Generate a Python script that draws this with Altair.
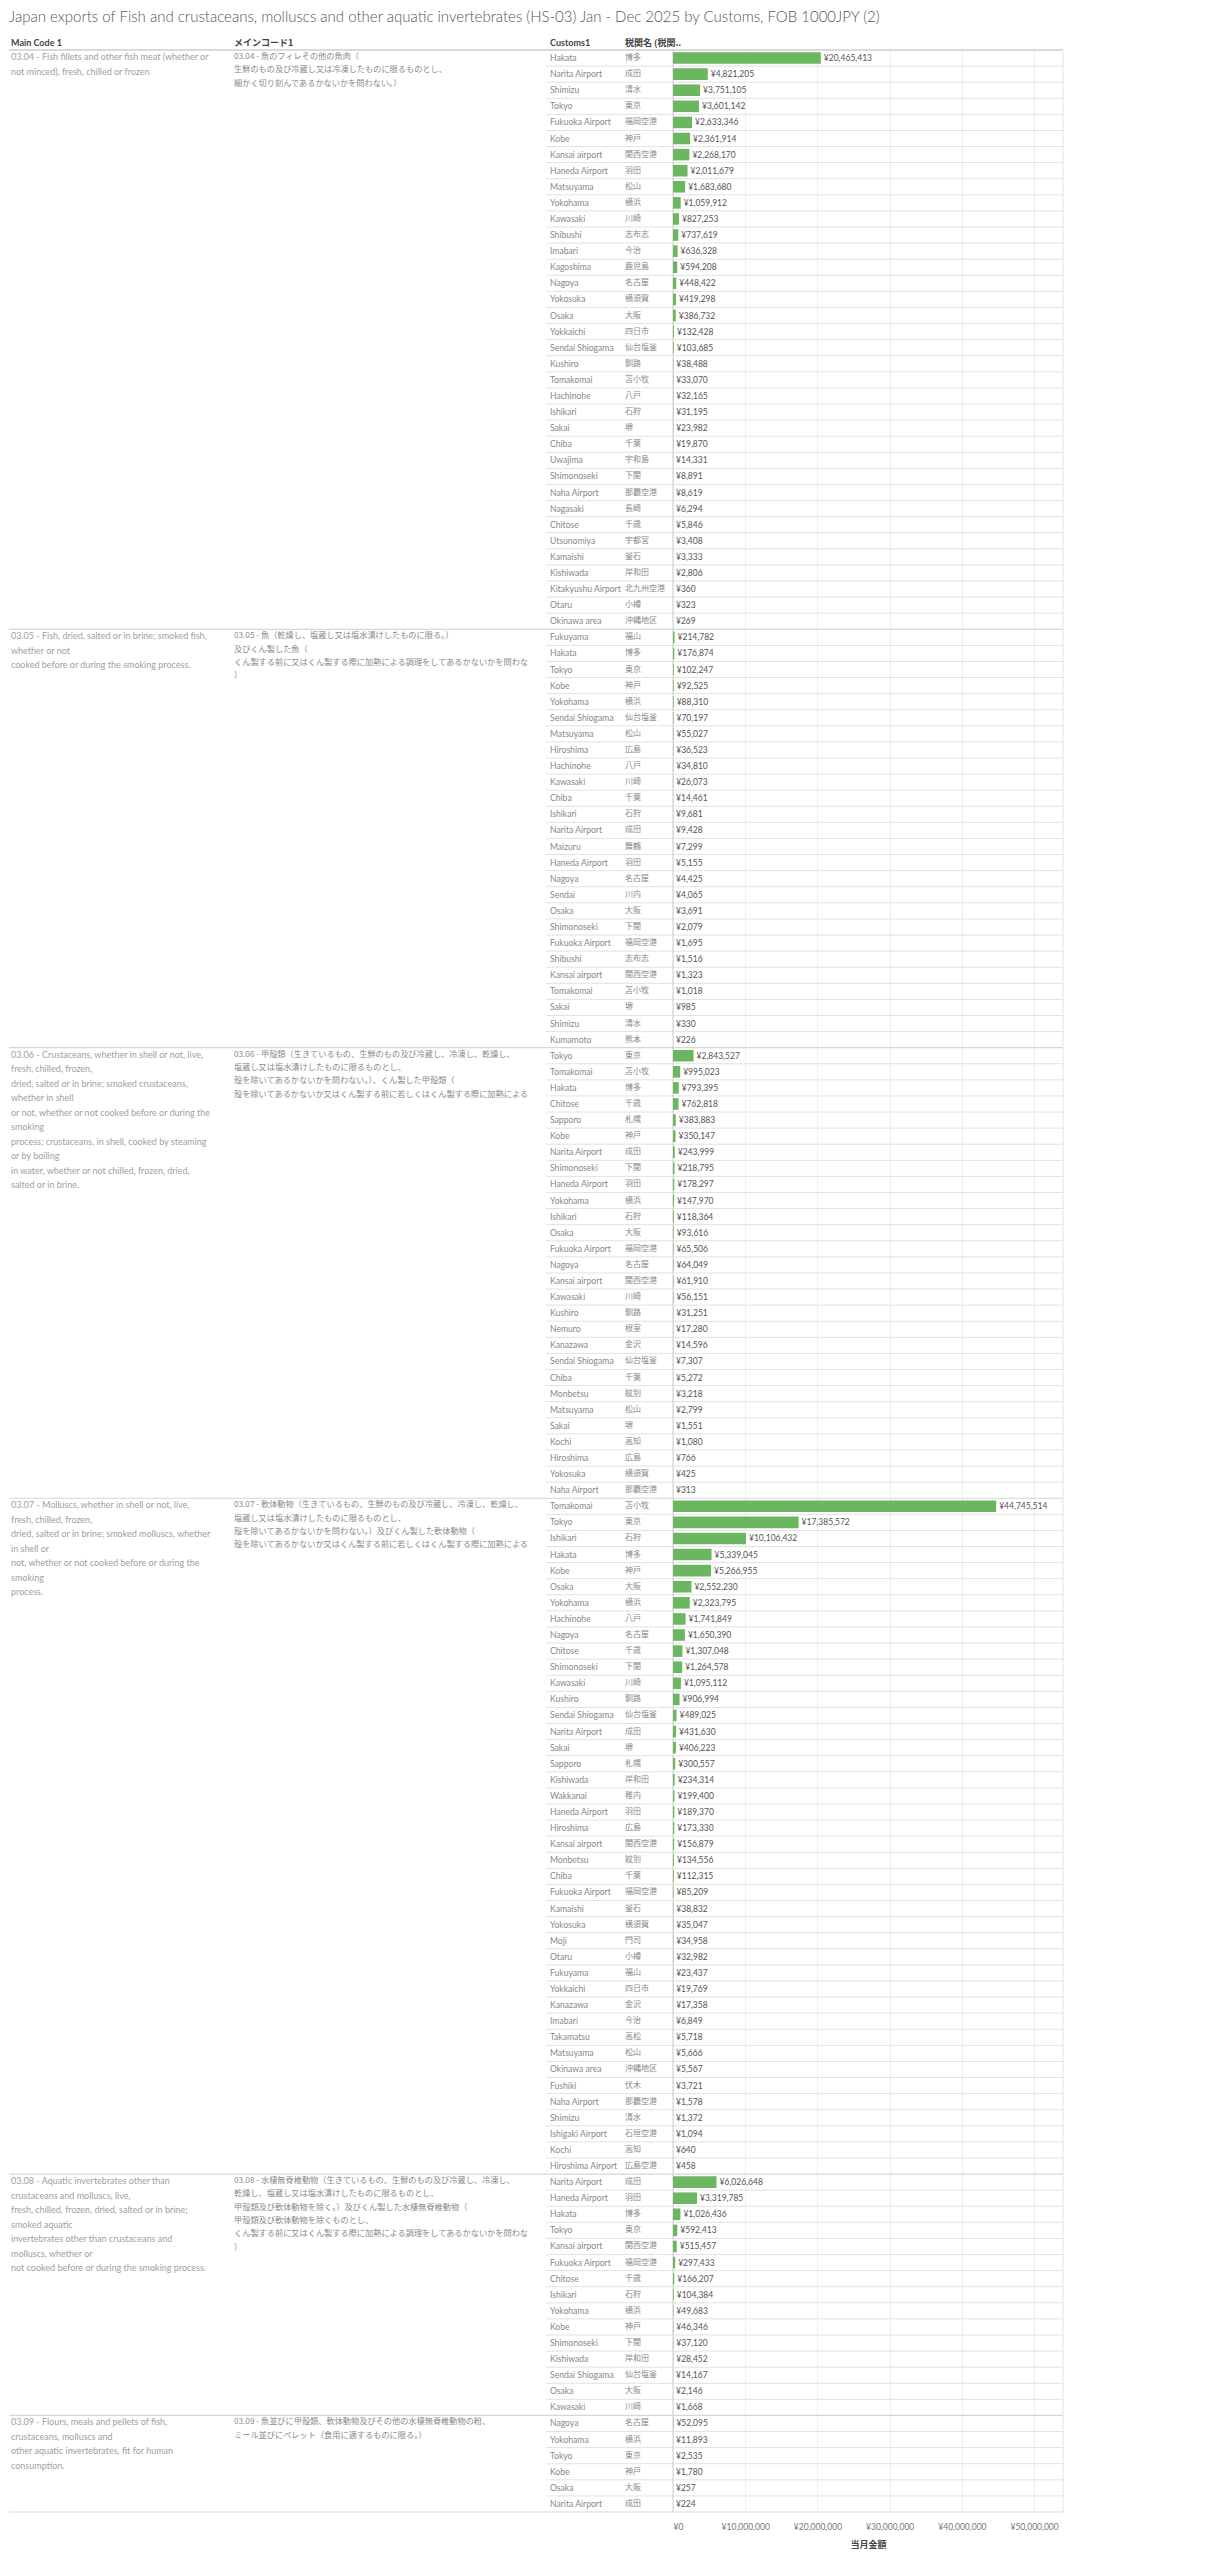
import altair as alt
import pandas as pd

TITLE = ("Japan exports of Fish and crustaceans, molluscs and other aquatic invertebrates "
         "(HS-03) Jan - Dec 2025 by Customs, FOB 1000JPY (2)")
HEADERS = ["Main Code 1", "メインコード1", "Customs1", "税関名 (税関.."]
AXIS_TITLE = "当月金額"
TICKS = [0, 10000000, 20000000, 30000000, 40000000, 50000000]

codes = ["03.04", "03.05", "03.06", "03.07", "03.08", "03.09"]

main_en = [
    ["03.04 - Fish fillets and other fish meat (whether or",
     "not minced), fresh, chilled or frozen"],
    ["03.05 - Fish, dried, salted or in brine; smoked fish,",
     "whether or not",
     "cooked before or during the smoking process."],
    ["03.06 - Crustaceans, whether in shell or not, live,",
     "fresh, chilled, frozen,",
     "dried, salted or in brine; smoked crustaceans,",
     "whether in shell",
     "or not, whether or not cooked before or during the",
     "smoking",
     "process; crustaceans, in shell, cooked by steaming",
     "or by boiling",
     "in water, whether or not chilled, frozen, dried,",
     "salted or in brine."],
    ["03.07 - Molluscs, whether in shell or not, live,",
     "fresh, chilled, frozen,",
     "dried, salted or in brine; smoked molluscs, whether",
     "in shell or",
     "not, whether or not cooked before or during the",
     "smoking",
     "process."],
    ["03.08 - Aquatic invertebrates other than",
     "crustaceans and molluscs, live,",
     "fresh, chilled, frozen, dried, salted or in brine;",
     "smoked aquatic",
     "invertebrates other than crustaceans and",
     "molluscs, whether or",
     "not cooked before or during the smoking process."],
    ["03.09 - Flours, meals and pellets of fish,",
     "crustaceans, molluscs and",
     "other aquatic invertebrates, fit for human",
     "consumption."],
]

main_jp = [
    ["03.04 - 魚のフィレその他の魚肉（",
     "生鮮のもの及び冷蔵し又は冷凍したものに限るものとし、",
     "細かく切り刻んであるかないかを問わない。）"],
    ["03.05 - 魚（乾燥し、塩蔵し又は塩水漬けしたものに限る。）",
     "及びくん製した魚（",
     "くん製する前に又はくん製する際に加熱による調理をしてあるかないかを問わない。",
     "）"],
    ["03.06 - 甲殻類（生きているもの、生鮮のもの及び冷蔵し、冷凍し、乾燥し、",
     "塩蔵し又は塩水漬けしたものに限るものとし、",
     "殻を除いてあるかないかを問わない。）、くん製した甲殻類（",
     "殻を除いてあるかないか又はくん製する前に若しくはくん製する際に加熱による調理をしてあるかないかを問わない。）"],
    ["03.07 - 軟体動物（生きているもの、生鮮のもの及び冷蔵し、冷凍し、乾燥し、",
     "塩蔵し又は塩水漬けしたものに限るものとし、",
     "殻を除いてあるかないかを問わない。）及びくん製した軟体動物（",
     "殻を除いてあるかないか又はくん製する前に若しくはくん製する際に加熱による調理をしてあるかないかを問わない。）"],
    ["03.08 - 水棲無脊椎動物（生きているもの、生鮮のもの及び冷蔵し、冷凍し、",
     "乾燥し、塩蔵し又は塩水漬けしたものに限るものとし、",
     "甲殻類及び軟体動物を除く。）及びくん製した水棲無脊椎動物（",
     "甲殻類及び軟体動物を除くものとし、",
     "くん製する前に又はくん製する際に加熱による調理をしてあるかないかを問わない。",
     "）"],
    ["03.09 - 魚並びに甲殻類、軟体動物及びその他の水棲無脊椎動物の粉、",
     "ミール並びにペレット（食用に適するものに限る。）"],
]

s0304_en = ["Hakata", "Narita Airport", "Shimizu", "Tokyo", "Fukuoka Airport", "Kobe",
            "Kansai airport", "Haneda Airport", "Matsuyama", "Yokohama", "Kawasaki",
            "Shibushi", "Imabari", "Kagoshima", "Nagoya", "Yokosuka", "Osaka", "Yokkaichi",
            "Sendai Shiogama", "Kushiro", "Tomakomai", "Hachinohe", "Ishikari", "Sakai",
            "Chiba", "Uwajima", "Shimonoseki", "Naha Airport", "Nagasaki", "Chitose",
            "Utsunomiya", "Kamaishi", "Kishiwada", "Kitakyushu Airport", "Otaru",
            "Okinawa area"]
s0304_jp = ["博多", "成田", "清水", "東京", "福岡空港", "神戸", "関西空港", "羽田", "松山",
            "横浜", "川崎", "志布志", "今治", "鹿児島", "名古屋", "横須賀", "大阪", "四日市",
            "仙台塩釜", "釧路", "苫小牧", "八戸", "石狩", "堺", "千葉", "宇和島", "下関",
            "那覇空港", "長崎", "千歳", "宇都宮", "釜石", "岸和田", "北九州空港", "小樽",
            "沖縄地区"]
s0304_val = [20465413, 4821205, 3751105, 3601142, 2633346, 2361914, 2268170, 2011679,
             1683680, 1059912, 827253, 737619, 636328, 594208, 448422, 419298, 386732,
             132428, 103685, 38488, 33070, 32165, 31195, 23982, 19870, 14331, 8891, 8619,
             6294, 5846, 3408, 3333, 2806, 360, 323, 269]

s0305_en = ["Fukuyama", "Hakata", "Tokyo", "Kobe", "Yokohama", "Sendai Shiogama",
            "Matsuyama", "Hiroshima", "Hachinohe", "Kawasaki", "Chiba", "Ishikari",
            "Narita Airport", "Maizuru", "Haneda Airport", "Nagoya", "Sendai", "Osaka",
            "Shimonoseki", "Fukuoka Airport", "Shibushi", "Kansai airport", "Tomakomai",
            "Sakai", "Shimizu", "Kumamoto"]
s0305_jp = ["福山", "博多", "東京", "神戸", "横浜", "仙台塩釜", "松山", "広島", "八戸", "川崎",
            "千葉", "石狩", "成田", "舞鶴", "羽田", "名古屋", "川内", "大阪", "下関", "福岡空港",
            "志布志", "関西空港", "苫小牧", "堺", "清水", "熊本"]
s0305_val = [214782, 176874, 102247, 92525, 88310, 70197, 55027, 36523, 34810, 26073,
             14461, 9681, 9428, 7299, 5155, 4425, 4065, 3691, 2079, 1695, 1516, 1323,
             1018, 985, 330, 226]

s0306_en = ["Tokyo", "Tomakomai", "Hakata", "Chitose", "Sapporo", "Kobe", "Narita Airport",
            "Shimonoseki", "Haneda Airport", "Yokohama", "Ishikari", "Osaka",
            "Fukuoka Airport", "Nagoya", "Kansai airport", "Kawasaki", "Kushiro", "Nemuro",
            "Kanazawa", "Sendai Shiogama", "Chiba", "Monbetsu", "Matsuyama", "Sakai",
            "Kochi", "Hiroshima", "Yokosuka", "Naha Airport"]
s0306_jp = ["東京", "苫小牧", "博多", "千歳", "札幌", "神戸", "成田", "下関", "羽田", "横浜",
            "石狩", "大阪", "福岡空港", "名古屋", "関西空港", "川崎", "釧路", "根室", "金沢",
            "仙台塩釜", "千葉", "紋別", "松山", "堺", "高知", "広島", "横須賀", "那覇空港"]
s0306_val = [2843527, 995023, 793395, 762818, 383883, 350147, 243999, 218795, 178297,
             147970, 118364, 93616, 65506, 64049, 61910, 56151, 31251, 17280, 14596, 7307,
             5272, 3218, 2799, 1551, 1080, 766, 425, 313]

s0307_en = ["Tomakomai", "Tokyo", "Ishikari", "Hakata", "Kobe", "Osaka", "Yokohama",
            "Hachinohe", "Nagoya", "Chitose", "Shimonoseki", "Kawasaki", "Kushiro",
            "Sendai Shiogama", "Narita Airport", "Sakai", "Sapporo", "Kishiwada", "Wakkanai",
            "Haneda Airport", "Hiroshima", "Kansai airport", "Monbetsu", "Chiba",
            "Fukuoka Airport", "Kamaishi", "Yokosuka", "Moji", "Otaru", "Fukuyama",
            "Yokkaichi", "Kanazawa", "Imabari", "Takamatsu", "Matsuyama", "Okinawa area",
            "Fushiki", "Naha Airport", "Shimizu", "Ishigaki Airport", "Kochi",
            "Hiroshima Airport"]
s0307_jp = ["苫小牧", "東京", "石狩", "博多", "神戸", "大阪", "横浜", "八戸", "名古屋", "千歳",
            "下関", "川崎", "釧路", "仙台塩釜", "成田", "堺", "札幌", "岸和田", "稚内", "羽田",
            "広島", "関西空港", "紋別", "千葉", "福岡空港", "釜石", "横須賀", "門司", "小樽",
            "福山", "四日市", "金沢", "今治", "高松", "松山", "沖縄地区", "伏木", "那覇空港",
            "清水", "石垣空港", "高知", "広島空港"]
s0307_val = [44745514, 17385572, 10106432, 5339045, 5266955, 2552230, 2323795, 1741849,
             1650390, 1307048, 1264578, 1095112, 906994, 489025, 431630, 406223, 300557,
             234314, 199400, 189370, 173330, 156879, 134556, 112315, 85209, 38832, 35047,
             34958, 32982, 23437, 19769, 17358, 6849, 5718, 5666, 5567, 3721, 1578, 1372,
             1094, 640, 458]

s0308_en = ["Narita Airport", "Haneda Airport", "Hakata", "Tokyo", "Kansai airport",
            "Fukuoka Airport", "Chitose", "Ishikari", "Yokohama", "Kobe", "Shimonoseki",
            "Kishiwada", "Sendai Shiogama", "Osaka", "Kawasaki"]
s0308_jp = ["成田", "羽田", "博多", "東京", "関西空港", "福岡空港", "千歳", "石狩", "横浜",
            "神戸", "下関", "岸和田", "仙台塩釜", "大阪", "川崎"]
s0308_val = [6026648, 3319785, 1026436, 592413, 515457, 297433, 166207, 104384, 49683,
             46346, 37120, 28452, 14167, 2146, 1668]

s0309_en = ["Nagoya", "Yokohama", "Tokyo", "Kobe", "Osaka", "Narita Airport"]
s0309_jp = ["名古屋", "横浜", "東京", "神戸", "大阪", "成田"]
s0309_val = [52095, 11893, 2535, 1780, 257, 224]

sections = [
    (s0304_en, s0304_jp, s0304_val),
    (s0305_en, s0305_jp, s0305_val),
    (s0306_en, s0306_jp, s0306_val),
    (s0307_en, s0307_jp, s0307_val),
    (s0308_en, s0308_jp, s0308_val),
    (s0309_en, s0309_jp, s0309_val),
]

# ---- build tables ----
rows = []
sec_rows = []
r = 0
for si, (en, jp, val) in enumerate(sections):
    sec_rows.append({"row": r, "code": codes[si],
                     "en": "\n".join(main_en[si]), "jp": "\n".join(main_jp[si])})
    for i, (a, b, v) in enumerate(zip(en, jp, val)):
        rows.append({"row": r, "code": codes[si], "customs": a, "customs_jp": b,
                     "value": v, "first": i == 0})
        r += 1
N = r
df = pd.DataFrame(rows)
df["label"] = ["¥" + format(v, ",") for v in df["value"]]
sec_df = pd.DataFrame(sec_rows)

ROW_H = 16.09
H = round(N * ROW_H)
W = 1054
BAR_X0 = 664
BAR_X1 = 1054
GREEN = "#6cb661"
LATO = "Lato"
CJK = "Noto Sans CJK JP"

yscale = alt.Scale(domain=list(range(N)), paddingInner=0, paddingOuter=0)
Y = alt.Y("row:O", scale=yscale, axis=None)
Ytop = alt.Y("row:O", scale=yscale, axis=None, bandPosition=0)

xscale = alt.Scale(domain=[0, 54000000], range=[BAR_X0, BAR_X1], nice=False, zero=True)

base = alt.Chart(df)

row_lines = base.transform_filter("!datum.first").mark_rule(
    color="#e2e2e2", strokeWidth=1
).encode(y=Ytop, x=alt.value(537), x2=alt.value(W))

sec_lines = alt.Chart(sec_df).mark_rule(color="#d6d6d6", strokeWidth=1.2).encode(
    y=Ytop, x=alt.value(0), x2=alt.value(W))

header_df = pd.DataFrame({"h": HEADERS, "px": [2, 225, 541, 616],
                          "font": [LATO, CJK, LATO, CJK]})

top_line = alt.Chart(header_df.head(1)).mark_rule(color="#dadada", strokeWidth=2).encode(
    y=alt.value(0), x=alt.value(0), x2=alt.value(W))
bottom_line = alt.Chart(header_df.head(1)).mark_rule(color="#dadada", strokeWidth=1.2).encode(
    y=alt.value(H), x=alt.value(0), x2=alt.value(W))
zero_line = alt.Chart(header_df.head(1)).mark_rule(color="#cfcfcf", strokeWidth=1).encode(
    x=alt.value(BAR_X0), y=alt.value(0), y2=alt.value(H))
right_line = alt.Chart(header_df.head(1)).mark_rule(color="#e4e4e4", strokeWidth=1).encode(
    x=alt.value(BAR_X1), y=alt.value(0), y2=alt.value(H))

bars = base.mark_bar(color=GREEN, height={"band": 0.72}).encode(
    y=Y,
    x=alt.X("value:Q", scale=xscale,
            axis=alt.Axis(values=TICKS, grid=True, gridColor="#efefef", domain=False,
                          ticks=False, labelExpr="'¥' + format(datum.value, ',')",
                          labelFont=LATO, labelFontSize=8.5, labelColor="#777",
                          labelPadding=10, title=AXIS_TITLE, titleFont=CJK,
                          titleFontSize=9, titleColor="#444", titleFontWeight="bold",
                          titlePadding=10)),
)

labels = base.mark_text(align="left", baseline="middle", dx=3, font=LATO,
                        fontSize=8.5, color="#555").encode(
    y=Y, x=alt.X("value:Q", scale=xscale), text="label:N")

cust = base.mark_text(align="left", baseline="middle", font=LATO, fontSize=8.6,
                      color="#888").encode(y=Y, x=alt.value(541), text="customs:N")
cust_jp = base.mark_text(align="left", baseline="middle", font=CJK, fontSize=8,
                         color="#888").encode(y=Y, x=alt.value(616), text="customs_jp:N")

main_en_txt = alt.Chart(sec_df).mark_text(
    align="left", baseline="top", font=LATO, fontSize=9, color="#a0a0a0",
    lineBreak="\n", lineHeight=14.5, yOffset=-5
).encode(y=Y, x=alt.value(2), text="en:N")

main_jp_txt = alt.Chart(sec_df).mark_text(
    align="left", baseline="top", font=CJK, fontSize=8.2, color="#8a8a8a",
    lineBreak="\n", lineHeight=13.3, yOffset=-5, limit=300, ellipsis="\u200b"
).encode(y=Y, x=alt.value(225), text="jp:N")

headers = []
for i in range(len(HEADERS)):
    headers.append(
        alt.Chart(header_df.iloc[[i]]).mark_text(
            align="left", baseline="middle", font=header_df["font"][i], fontSize=9,
            fontWeight="bold", color="#444"
        ).encode(x=alt.value(float(header_df["px"][i])), y=alt.value(-7), text="h:N")
    )

title = alt.Chart(pd.DataFrame({"t": [TITLE]})).mark_text(
    align="left", baseline="middle", font=LATO, fontSize=15, fontWeight=300,
    color="#555"
).encode(x=alt.value(0), y=alt.value(-33), text="t:N")

chart = alt.layer(
    row_lines, sec_lines, top_line, bottom_line, zero_line, right_line,
    bars, labels, cust, cust_jp, main_en_txt, main_jp_txt, *headers, title
).properties(
    width=W, height=H,
    padding={"left": 0, "top": 2, "right": 5, "bottom": 4},
).configure_view(stroke=None)

chart.save("out.html", embed_options={"renderer": "svg", "actions": False})
